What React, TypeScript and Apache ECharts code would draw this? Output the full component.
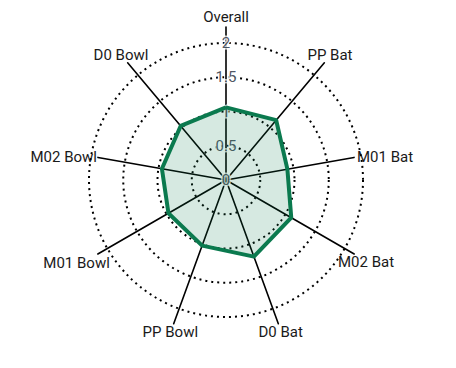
import React, { useEffect, useRef } from "react";
import * as echarts from "echarts";

const categories = ["Overall", "PP Bat", "M01 Bat", "M02 Bat", "D0 Bat", "PP Bowl", "M01 Bowl", "M02 Bowl", "D0 Bowl"];
const values = [1.06, 1.14, 0.91, 1.1, 1.19, 1.02, 0.97, 0.95, 1.03];
const tickValues = [0, 0.5, 1, 1.5, 2];
const axisMax = 2;
const axisSplits = 4;

// Styling / layout of the axis names (not data)
const lineRadii = [153, 148, 130];
const nameLayout = [
  { g: 0, align: "center", va: "bottom", gap: 3, pad: [0, 0, 0, 0] },
  { g: 0, align: "center", va: "bottom", gap: 1, pad: [0, 0, 0, 10] },
  { g: 2, align: "left", va: "middle", gap: 3, pad: [0, 0, 9, 0] },
  { g: 1, align: "center", va: "top", gap: 1, pad: [0, 0, 0, 22] },
  { g: 0, align: "center", va: "top", gap: 1, pad: [0, 0, 0, 4] },
  { g: 0, align: "center", va: "top", gap: 1, pad: [0, 6, 0, 0] },
  { g: 1, align: "center", va: "top", gap: 2, pad: [0, 39, 0, 0] },
  { g: 2, align: "right", va: "middle", gap: 1, pad: [0, 0, 9, 0] },
  { g: 0, align: "center", va: "bottom", gap: 1, pad: [0, 12, 0, 0] },
];

const FONT = "Roboto";
const CENTER = [218, 172];

// ECharts lays radar indicators counter-clockwise; reorder to get clockwise.
const order = categories.map((_, k) => (k === 0 ? 0 : categories.length - k));

export default function App() {
  const ref = useRef<HTMLDivElement>(null);
  useEffect(() => {
    if (!ref.current) return;
    const chart = echarts.init(ref.current, undefined, { renderer: "svg" });

    const mainRadar = {
      center: CENTER, radius: 137, shape: "circle", splitNumber: axisSplits, startAngle: 90,
      indicator: order.map(() => ({ name: "", min: 0, max: axisMax })),
      axisName: { show: false }, axisLine: { show: false }, axisTick: { show: false }, axisLabel: { show: false },
      splitArea: { show: false },
      splitLine: { lineStyle: { color: "#000", width: 2, type: [2, 4] } },
      z: 1,
    };

    const lineRadars = lineRadii.map((r, gi) => ({
      center: CENTER, radius: r, shape: "circle", splitNumber: axisSplits, startAngle: 90,
      indicator: order.map((i) => {
        const L = nameLayout[i];
        const mine = L.g === gi;
        return {
          name: mine ? categories[i] : "",
          min: 0, max: axisMax, nameGap: L.gap,
          axisLine: { show: mine },
          nameTextStyle: { align: L.align, verticalAlign: L.va, padding: L.pad },
        };
      }),
      axisName: { show: true, color: "#1a1a1a", fontSize: 15, fontFamily: FONT },
      axisLine: { show: false, lineStyle: { color: "#000", width: 1.6 } },
      axisTick: { show: false }, axisLabel: { show: false },
      splitArea: { show: false }, splitLine: { show: false },
      z: 0,
    }));

    chart.setOption({
      animation: false,
      backgroundColor: "#fff",
      polar: { center: CENTER, radius: 137 },
      angleAxis: { type: "value", startAngle: 90, min: 0, max: 360, show: false },
      radiusAxis: { type: "value", min: 0, max: axisMax, show: false },
      radar: [mainRadar, ...lineRadars],
      series: [
        {
          type: "scatter",
          coordinateSystem: "polar",
          symbolSize: 1,
          itemStyle: { color: "transparent" },
          z: 2,
          silent: true,
          label: {
            show: true,
            position: "inside",
            formatter: (p: any) => String(p.value[0]),
            color: "#1e2a3a",
            fontSize: 15,
            fontFamily: FONT,
            textBorderColor: "#fff",
            textBorderWidth: 3,
          },
          labelLayout: { hideOverlap: false },
          data: tickValues.map((v) => [v, 0]),
        },
        {
          type: "radar", radarIndex: 0, symbol: "none", z: 3,
          lineStyle: { color: "#0b7a4f", width: 4 },
          areaStyle: { color: "rgba(11,122,79,0.24)" },
          data: [{ value: order.map((i) => values[i]), name: "Overall" }],
        },
      ],
    });
    return () => chart.dispose();
  }, []);
  return <div ref={ref} style={{ width: 440, height: 352 }} />;
}
